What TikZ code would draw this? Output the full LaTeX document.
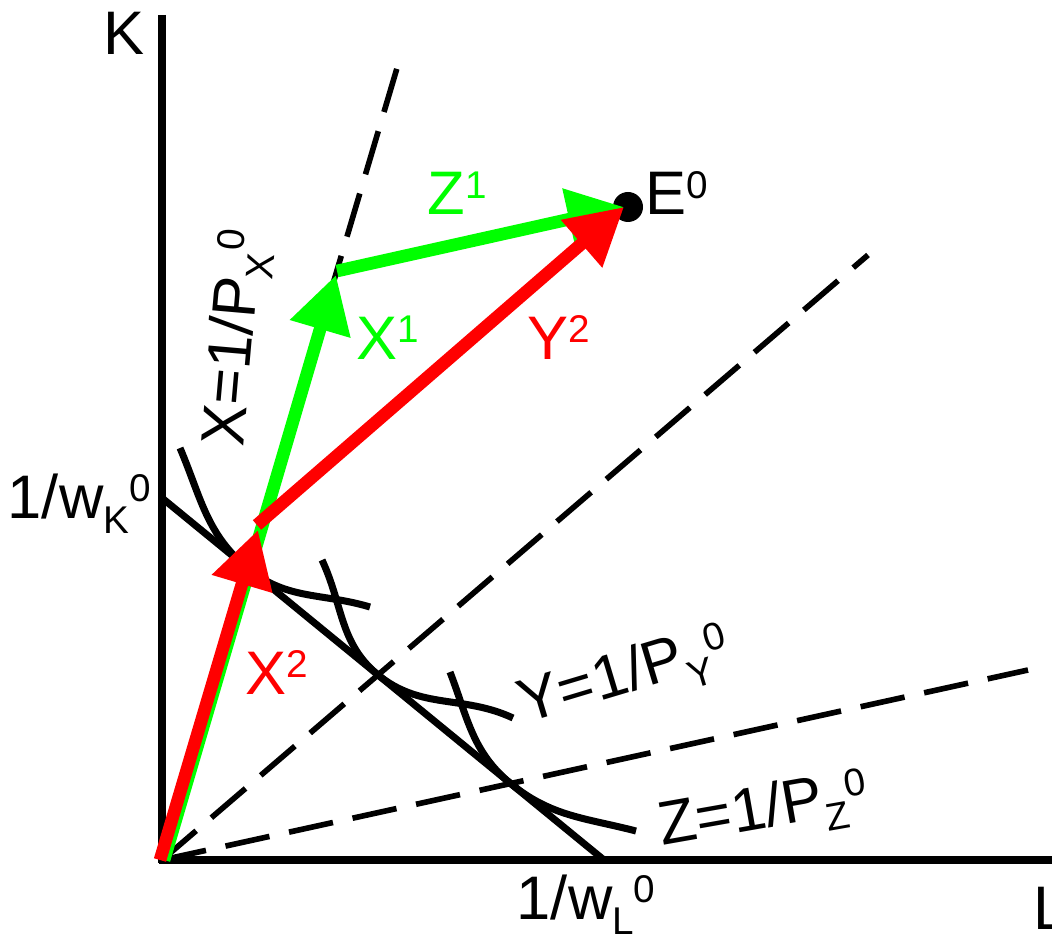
\documentclass[tikz,border=0pt]{standalone}
\usepackage{fontspec}
\setmainfont{Liberation Sans}
\usetikzlibrary{arrows.meta}
\definecolor{pgreen}{RGB}{0,255,0}
\definecolor{pred}{RGB}{255,0,0}
\newcommand{\lsub}[1]{\raisebox{-4.3pt}{\fontsize{11}{13}\selectfont #1}}
\newcommand{\lsup}[1]{\raisebox{4.6pt}{\fontsize{11}{13}\selectfont #1}}
\begin{document}
\begin{tikzpicture}[
  lbl/.style={inner sep=0pt, anchor=base west, font=\fontsize{17.5}{20}\selectfont},
  ray/.style={line width=1.6pt, dash pattern=on 12.8pt off 5.7pt},
  curve/.style={line width=2pt},
  axis/.style={line width=2.2pt},
  vec/.style={line width=3.6pt, -{Triangle[length=16pt,width=17pt]}},
]
\useasboundingbox (0,0) rectangle (10.52,9.35);
% key points
\coordinate (O) at (1.62,0.75);
\coordinate (Og) at (1.64,0.75);
\coordinate (Or) at (1.60,0.75);
\coordinate (Ktop) at (1.62,9.20);
\coordinate (Kbot) at (1.62,0.72);
\coordinate (Lbeg) at (1.585,0.75);
\coordinate (Lend) at (10.52,0.75);
\coordinate (RX) at (4.00,8.77);
\coordinate (RY) at (8.68,6.80);
\coordinate (RZ) at (10.28,2.65);
\coordinate (B1) at (1.62,4.37);
\coordinate (B2) at (6.04,0.75);
\coordinate (XS) at (1.80,4.87);
\coordinate (XT) at (2.484,3.662);
\coordinate (XE) at (3.70,3.28);
\coordinate (YS) at (3.22,3.75);
\coordinate (YT) at (3.78,2.601);
\coordinate (YE) at (5.13,2.17);
\coordinate (ZS) at (4.50,2.63);
\coordinate (ZT) at (5.108,1.513);
\coordinate (ZE) at (6.36,1.04);
\coordinate (X1) at (3.36,6.60);
\coordinate (Z1s) at (3.37,6.64);
\coordinate (X2) at (2.58,4.05);
\coordinate (Y2s) at (2.57,4.10);
\coordinate (Etip) at (6.24,7.28);
% rays
\draw[ray] (O) -- (RX);
\draw[ray] (O) -- (RY);
\draw[ray] (O) -- (RZ);
% budget line and isoquants
\draw[curve] (B1) -- (B2);
\draw[curve] (XS) to[out=-67,in=140.7] (XT) to[out=-39.3,in=163.3] (XE);
\draw[curve] (YS) to[out=-65,in=140.7] (YT) to[out=-39.3,in=155] (YE);
\draw[curve] (ZS) to[out=-69,in=140.7] (ZT) to[out=-39.3,in=165.4] (ZE);
% axes
\draw[axis] (Ktop) -- (Kbot);
\draw[axis] (Lbeg) -- (Lend);
% equilibrium point
\node[circle, fill=black, inner sep=0pt, minimum size=0.30cm] (E) at (6.28,7.28) {};
% vectors
\draw[vec, pgreen] (Og) -- (X1);
\draw[vec, pgreen] (Z1s) -- (Etip);
\draw[vec, pred] (Or) -- (X2);
\draw[vec, pred] (Y2s) -- (Etip);
% labels
\node[lbl] (lK) at (1.03,8.80) {K};
\node[lbl] (lL) at (10.33,0.06) {L};
\node[lbl] (lwK) at (0.07,4.17) {1/w\lsub{K}\lsup{0}};
\node[lbl] (lwL) at (5.16,0.16) {1/w\lsub{L}\lsup{0}};
\node[lbl, rotate=85] (lPX) at (2.43,4.87) {X=1/P\lsub{X}\lsup{0}};
\node[lbl, rotate=16.7] (lPY) at (5.25,2.11) {Y=1/P\lsub{Y}\lsup{0}};
\node[lbl, rotate=10] (lPZ) at (6.62,0.89) {Z=1/P\lsub{Z}\lsup{0}};
\node[lbl, text=pgreen] (lZ1) at (4.27,7.20) {Z\lsup{1}};
\node[lbl, text=pgreen] (lX1) at (3.56,5.76) {X\lsup{1}};
\node[lbl, text=pred] (lY2) at (5.27,5.76) {Y\lsup{2}};
\node[lbl, text=pred] (lX2) at (2.45,2.41) {X\lsup{2}};
\node[lbl] (lE) at (6.45,7.20) {E\lsup{0}};
\end{tikzpicture}
\end{document}
